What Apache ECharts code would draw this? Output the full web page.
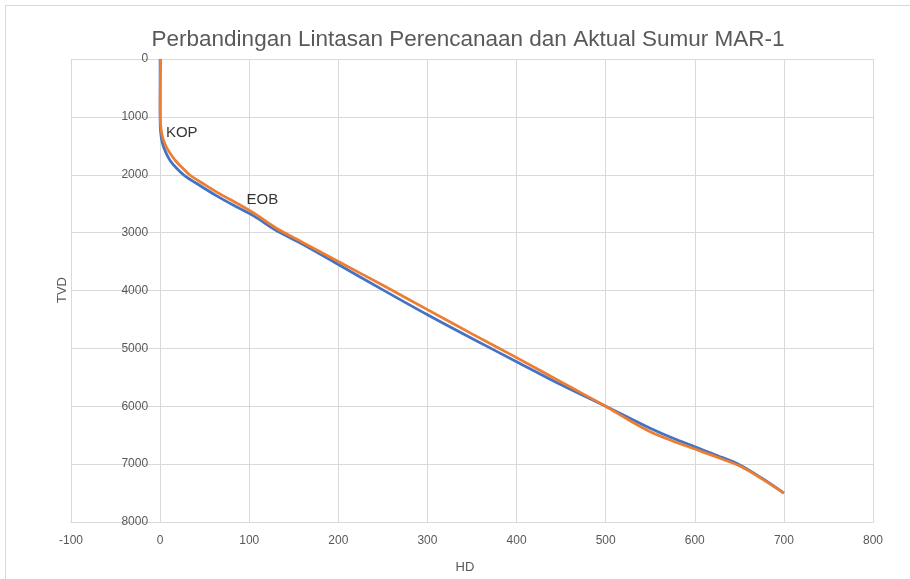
<!DOCTYPE html>
<html>
<head>
<meta charset="utf-8">
<script src="https://cdn.jsdelivr.net/npm/echarts@6/dist/echarts.min.js"></script>
<style>html,body{margin:0;padding:0;background:#fff}#c{width:910px;height:579px}</style>
</head>
<body>
<div id="c"></div>
<script>
// Data (HD, TVD)
const planHD  = [0, 0, 0.5, 2.5, 6, 11, 18, 27, 45, 63, 84, 105, 130, 160, 200, 250, 300, 350, 400, 450, 500, 525, 550, 575, 600, 625, 650, 675, 700];
const planTVD = [0, 1000, 1250, 1450, 1600, 1750, 1880, 2010, 2190, 2360, 2540, 2710, 2960, 3200, 3550, 3990, 4420, 4830, 5230, 5630, 6000, 6190, 6380, 6550, 6700, 6850, 7010, 7240, 7500];
const actHD   = [0.5, 0.3, 0, 0.4, 2, 5, 10, 17, 25, 33, 50, 67, 86, 105, 130, 160, 200, 250, 300, 350, 400, 450, 475, 500, 525, 550, 575, 600, 625, 650, 675, 700];
const actTVD  = [0, 400, 800, 1100, 1300, 1450, 1600, 1750, 1880, 2000, 2170, 2330, 2490, 2660, 2920, 3170, 3500, 3910, 4330, 4750, 5160, 5580, 5790, 6000, 6230, 6440, 6600, 6740, 6880, 7030, 7250, 7500];
const annoText = ['KOP', 'EOB'];
const annoHD   = [6.5, 97];
const annoTVD  = [1270, 2430];
const xTicks = {min: -100, max: 800, step: 100};
const yTicks = {min: 0, max: 8000, step: 1000};

const zip = (a, b) => a.map((v, i) => [v, b[i]]);
const FONT = 'Liberation Sans';
const GRID = {left: 71, right: 37, top: 59, bottom: 57};
const plotW = 910 - GRID.left - GRID.right;
const zeroOffset = (0 - xTicks.min) / (xTicks.max - xTicks.min) * plotW;

const chart = echarts.init(document.getElementById('c'), null, {renderer: 'canvas'});
chart.setOption({
  animation: false,
  backgroundColor: '#fff',
  textStyle: {fontFamily: FONT},
  title: {
    text: 'Perbandingan Lintasan Perencanaan dan Aktual Sumur MAR-1',
    left: 463, top: 23, textAlign: 'center',
    textStyle: {fontFamily: FONT, fontSize: 22.5, fontWeight: 'normal', color: '#595959'}
  },
  grid: Object.assign({containLabel: false}, GRID),
  xAxis: {
    type: 'value', min: xTicks.min, max: xTicks.max, interval: xTicks.step,
    axisLine: {onZero: false, lineStyle: {color: '#d9d9d9'}},
    axisTick: {show: false},
    axisLabel: {color: '#595959', fontSize: 12, margin: 13, fontFamily: FONT, formatter: v => String(v)},
    splitLine: {lineStyle: {color: '#d9d9d9'}}
  },
  yAxis: {
    type: 'value', inverse: true, min: yTicks.min, max: yTicks.max, interval: yTicks.step,
    position: 'left', offset: -zeroOffset,
    axisLine: {show: true, onZero: false, lineStyle: {color: '#d9d9d9'}},
    axisTick: {show: false},
    axisLabel: {color: '#595959', fontSize: 12, margin: 12, fontFamily: FONT, formatter: v => String(v)},
    splitLine: {lineStyle: {color: '#d9d9d9'}}
  },
  graphic: [
    {type: 'rect', shape: {x: 5.5, y: 5.5, width: 1200, height: 1200}, style: {fill: 'none', stroke: '#d9d9d9', lineWidth: 1}, silent: true},
    {type: 'text', x: 465, y: 567, style: {text: 'HD', fill: '#595959', font: '13px ' + FONT, textAlign: 'center', textVerticalAlign: 'middle'}},
    {type: 'text', x: 62, y: 290, rotation: Math.PI / 2, style: {text: 'TVD', fill: '#595959', font: '13px ' + FONT, textAlign: 'center', textVerticalAlign: 'middle'}}
  ],
  series: [
    {name: 'Perencanaan', type: 'line', data: zip(planHD, planTVD), showSymbol: false, smooth: 0.3,
     lineStyle: {color: '#4472C4', width: 2.75}, z: 2},
    {name: 'Aktual', type: 'line', data: zip(actHD, actTVD), showSymbol: false, smooth: 0.3,
     lineStyle: {color: '#ED7D31', width: 2.75}, z: 3},
    {type: 'scatter', symbolSize: 0, z: 4,
     data: annoText.map((t, i) => ({value: [annoHD[i], annoTVD[i]], name: t})),
     label: {show: true, position: 'right', distance: 0, formatter: p => p.name, color: '#000', fontSize: 15, fontFamily: FONT}}
  ]
});
</script>
</body>
</html>
